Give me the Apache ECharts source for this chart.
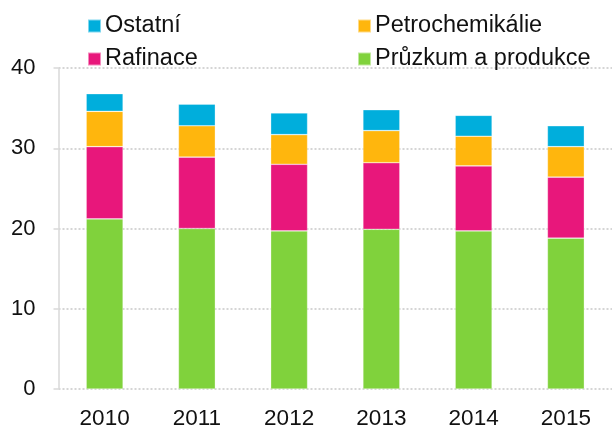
<!DOCTYPE html>
<html>
<head>
<meta charset="utf-8">
<script src="https://cdn.jsdelivr.net/npm/echarts@6/dist/echarts.min.js"></script>
<style>
  html, body { margin: 0; padding: 0; background: #fff; }
  #barChart { width: 612px; height: 430px; }
</style>
</head>
<body>
<div id="barChart"></div>
<script>
// data
const years = ['2010', '2011', '2012', '2013', '2014', '2015']
const pruzkum = [21.2, 20.0, 19.7, 19.9, 19.7, 18.8]
const rafinace = [9.0, 8.9, 8.3, 8.3, 8.1, 7.6]
const petrochemie = [4.4, 3.9, 3.7, 4.0, 3.7, 3.8]
const ostatni = [2.2, 2.7, 2.7, 2.6, 2.6, 2.6]

const font = 'Liberation Sans, Arial, sans-serif'
const colors = {
  ostatni: '#00aedc',
  petro: '#ffb60d',
  rafinace: '#e8177b',
  pruzkum: '#80d23c'
}

function legendAt(name, left, top) {
  return {
    data: [name],
    left: left,
    top: top,
    padding: 0,
    icon: 'rect',
    itemWidth: 13,
    itemHeight: 13,
    selectedMode: false,
    textStyle: { fontFamily: font, fontSize: 23.5, color: '#111', padding: [0, 0, 0, -1] }
  }
}

function bar(name, data, color) {
  return {
    name: name,
    type: 'bar',
    stack: 'total',
    barWidth: '40%',
    data: data,
    itemStyle: { color: color, borderColor: 'rgba(255,255,255,0.5)', borderWidth: 0.6 }
  }
}

let myChart = echarts.init(document.getElementById('barChart'))
let options = {
  animation: false,
  legend: [
    legendAt('Ostatní', 87, 14),
    legendAt('Rafinace', 87, 47),
    legendAt('Petrochemikálie', 357, 14),
    legendAt('Průzkum a produkce', 357, 47)
  ],
  grid: {
    left: 58.5,
    top: 68,
    width: 561,
    height: 323
  },
  xAxis: {
    type: 'category',
    data: years,
    axisLine: { show: false },
    axisTick: { show: false },
    axisLabel: { fontFamily: font, fontSize: 22.5, color: '#111', margin: 18 }
  },
  yAxis: {
    type: 'value',
    min: 0,
    max: 40,
    interval: 10,
    axisLine: { show: true, lineStyle: { color: '#d9d9d9', width: 1.5 } },
    axisTick: { show: true, length: 5, lineStyle: { color: '#d9d9d9', width: 1.5 } },
    axisLabel: { fontFamily: font, fontSize: 22, color: '#111', margin: 23 },
    splitLine: { show: true, lineStyle: { color: '#c8c8c8', type: [2, 2], width: 1.5 } }
  },
  series: [
    bar('Průzkum a produkce', pruzkum, colors.pruzkum),
    bar('Rafinace', rafinace, colors.rafinace),
    bar('Petrochemikálie', petrochemie, colors.petro),
    bar('Ostatní', ostatni, colors.ostatni)
  ]
}
myChart.setOption(options)
</script>
</body>
</html>
